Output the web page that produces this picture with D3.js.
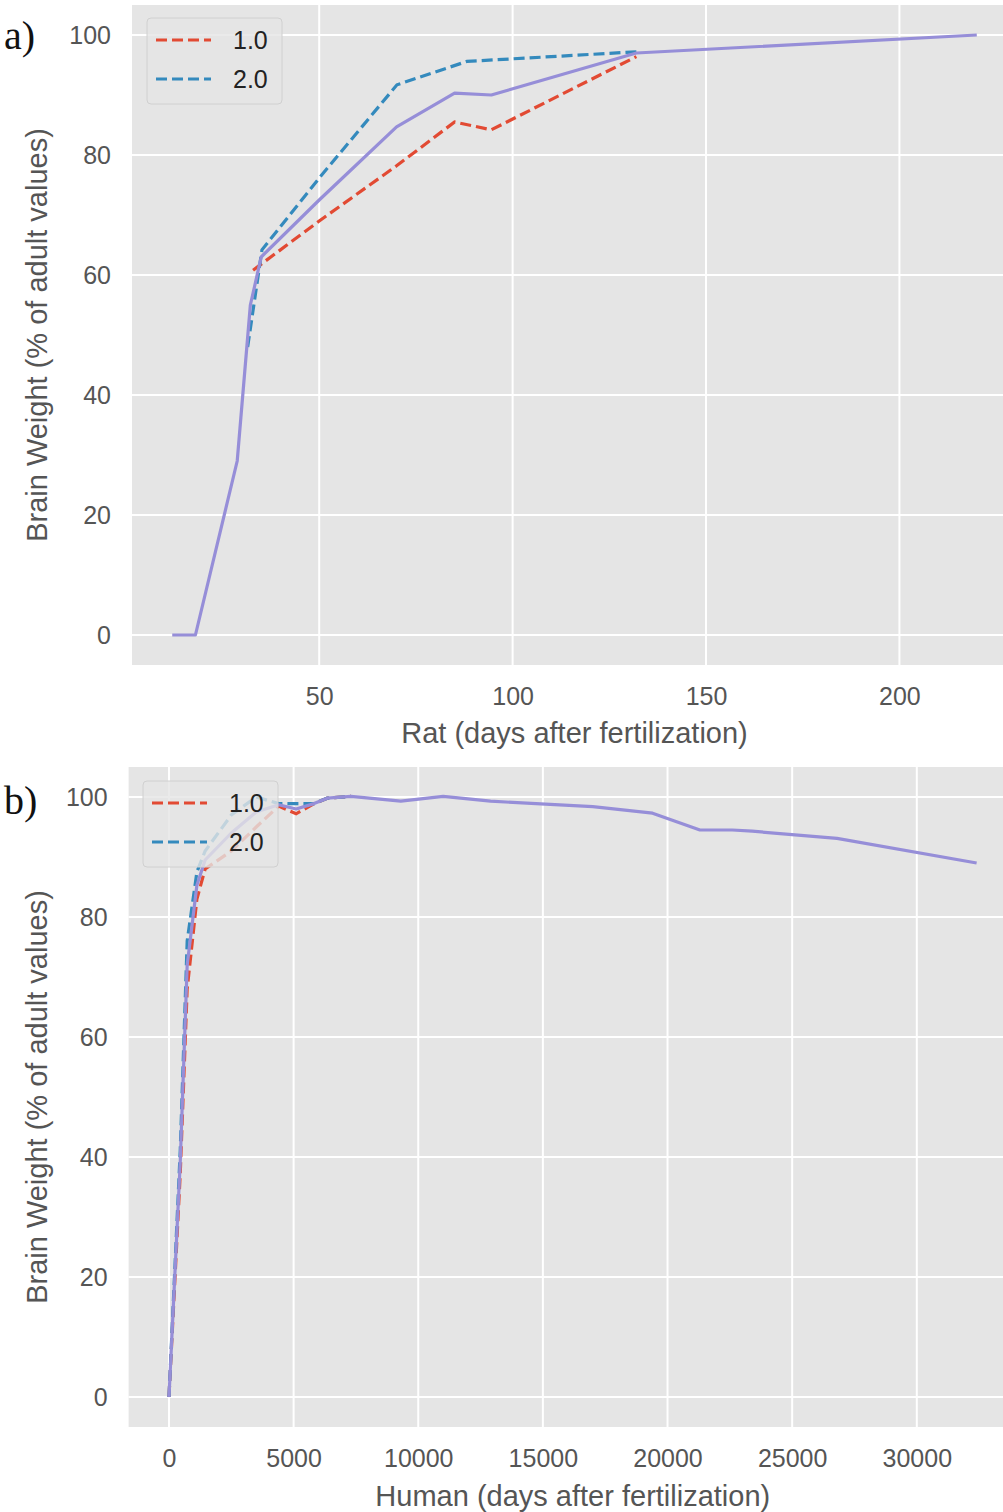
<!DOCTYPE html>
<html><head><meta charset="utf-8">
<script src="https://cdn.jsdelivr.net/npm/d3@7"></script>
<style>
body{margin:0;background:#fff;}
svg{display:block;}
</style></head>
<body>
<svg id="chart" width="1003" height="1512"></svg>
<script>
// ---------- DATA ----------
// Panel a: Rat
const ratDaysMean = [12, 18, 28.8, 32.2, 35, 50, 70, 85, 94.5, 132, 220];
const ratMean     = [0, 0, 29, 55, 63, 72.5, 84.7, 90.3, 90, 97, 100];
const ratDays1    = [32.9, 50, 70, 85, 94.5, 132];
const rat1        = [60.8, 69, 78.2, 85.5, 84.2, 96.4];
const ratDays2    = [31.5, 35.2, 50.3, 70.1, 88.2, 132];
const rat2        = [48, 64.2, 76.4, 91.7, 95.6, 97.2];
const ratXTicks   = [50, 100, 150, 200];

// Panel b: Human
const humDaysMean = [0, 450, 730, 1120, 1450, 2500, 3500, 4400, 5100, 5820, 6350, 7300, 9300, 11000, 12900, 15100, 17000, 19400, 21300, 22600, 23400, 26800, 32400];
const humMean     = [0, 39, 72, 85.3, 89.5, 94, 97.5, 98.7, 98, 98.9, 99.8, 100.1, 99.3, 100.1, 99.3, 98.8, 98.4, 97.3, 94.5, 94.5, 94.3, 93.1, 89];
const humDays1    = [0, 450, 730, 1120, 1450, 2500, 3500, 4400, 5100, 5820, 6350, 7300];
const hum1        = [0, 37, 68, 83, 88, 91, 95, 98.5, 97.2, 98.9, 99.8, 100.1];
const humDays2    = [0, 450, 730, 1120, 1450, 2500, 3500, 4400, 5100, 5820, 6350, 7300];
const hum2        = [0, 41, 76, 87.5, 91, 97, 100, 98.9, 98.9, 98.9, 99.8, 100.1];
const humXTicks   = [0, 5000, 10000, 15000, 20000, 25000, 30000];

const yTicks = [0, 20, 40, 60, 80, 100];
const legendLabels = ["1.0", "2.0"];
const colors = {s1: "#E24A33", s2: "#348ABD", mean: "#968ED8"};

// ---------- DRAW ----------
const svg = d3.select("#chart");
const FONT = "'Liberation Sans', Arial, sans-serif";

function panel(opt) {
  const x = d3.scaleLinear().domain(opt.xDomain).range(opt.xRange);
  const y = d3.scaleLinear().domain([-5, 105]).range(opt.yRange);
  const g = svg.append("g");
  const [x0, x1] = opt.xRange, [y1, y0] = opt.yRange;

  g.append("rect").attr("x", x0).attr("y", y0).attr("width", x1 - x0).attr("height", y1 - y0)
    .attr("fill", "#E5E5E5");

  // grid
  g.selectAll(".gx").data(opt.xTicks).join("line")
    .attr("x1", d => x(d)).attr("x2", d => x(d)).attr("y1", y0).attr("y2", y1)
    .attr("stroke", "#fff").attr("stroke-width", 2);
  g.selectAll(".gy").data(yTicks).join("line")
    .attr("x1", x0).attr("x2", x1).attr("y1", d => y(d)).attr("y2", d => y(d))
    .attr("stroke", "#fff").attr("stroke-width", 2);

  // axes
  const xa = g.append("g").attr("transform", `translate(0,${y1})`)
    .call(d3.axisBottom(x).tickValues(opt.xTicks).tickSize(0).tickPadding(22).tickFormat(d3.format("d")));
  const ya = g.append("g").attr("transform", `translate(${x0},0)`)
    .call(d3.axisLeft(y).tickValues(yTicks).tickSize(0).tickPadding(21).tickFormat(d3.format("d")));
  [xa, ya].forEach(a => {
    a.select(".domain").remove();
    a.selectAll("text").attr("font-family", FONT).attr("font-size", 25).attr("fill", "#555");
  });

  const line = d3.line().x(d => x(d[0])).y(d => y(d[1]));
  const clipId = "clip" + opt.id;
  svg.append("clipPath").attr("id", clipId).append("rect")
    .attr("x", x0).attr("y", y0).attr("width", x1 - x0).attr("height", y1 - y0);
  const lg = g.append("g").attr("clip-path", `url(#${clipId})`);

  const zip = (a, b) => a.map((v, i) => [v, b[i]]);
  lg.append("path").datum(zip(opt.d1x, opt.d1y)).attr("d", line).attr("fill", "none")
    .attr("stroke", colors.s1).attr("stroke-width", 3.2).attr("stroke-dasharray", "11,5");
  lg.append("path").datum(zip(opt.d2x, opt.d2y)).attr("d", line).attr("fill", "none")
    .attr("stroke", colors.s2).attr("stroke-width", 3.2).attr("stroke-dasharray", "11,5");
  lg.append("path").datum(zip(opt.mx, opt.my)).attr("d", line).attr("fill", "none")
    .attr("stroke", colors.mean).attr("stroke-width", 3.2).attr("stroke-linejoin", "round");

  // legend
  const L = opt.legend;
  g.append("rect").attr("x", L.x).attr("y", L.y).attr("width", 135).attr("height", 86)
    .attr("rx", 4).attr("fill", "#E5E5E5").attr("fill-opacity", 0.8).attr("stroke", "#d0d0d0").attr("stroke-width", 1);
  legendLabels.forEach((lab, i) => {
    const yy = L.y + 22 + i * 39;
    g.append("line").attr("x1", L.x + 9).attr("x2", L.x + 64).attr("y1", yy).attr("y2", yy)
      .attr("stroke", i === 0 ? colors.s1 : colors.s2).attr("stroke-width", 3).attr("stroke-dasharray", "11,5");
    g.append("text").attr("x", L.x + 86).attr("y", yy).attr("dy", "0.35em")
      .attr("font-family", FONT).attr("font-size", 25).attr("fill", "#222").text(lab);
  });

  // axis labels
  g.append("text").attr("x", (x0 + x1) / 2).attr("y", opt.xLabelY).attr("dy", "0.35em").attr("text-anchor", "middle")
    .attr("font-family", FONT).attr("font-size", 29).attr("fill", "#555").text(opt.xLabel);
  g.append("text").attr("transform", `translate(37,${(y0 + y1) / 2}) rotate(-90)`).attr("dy", "0.35em").attr("text-anchor", "middle")
    .attr("font-family", FONT).attr("font-size", 29).attr("fill", "#555").text("Brain Weight (% of adult values)");

  // panel letter
  svg.append("text").attr("x", 4).attr("y", opt.letterY).attr("font-family", "'Liberation Serif', 'Times New Roman', serif")
    .attr("font-size", 40).attr("fill", "#111").text(opt.letter);
}

panel({
  id: "a", letter: "a)", letterY: 49,
  xDomain: [1.6, 230.4], xRange: [132, 1017], yRange: [665, 5],
  xTicks: ratXTicks, xLabel: "Rat (days after fertilization)", xLabelY: 733,
  mx: ratDaysMean, my: ratMean, d1x: ratDays1, d1y: rat1, d2x: ratDays2, d2y: rat2,
  legend: {x: 147, y: 18}
});
panel({
  id: "b", letter: "b)", letterY: 814,
  xDomain: [-1620, 34020], xRange: [128.6, 1017], yRange: [1427, 767],
  xTicks: humXTicks, xLabel: "Human (days after fertilization)", xLabelY: 1496,
  mx: humDaysMean, my: humMean, d1x: humDays1, d1y: hum1, d2x: humDays2, d2y: hum2,
  legend: {x: 143, y: 781}
});
</script>
</body></html>
